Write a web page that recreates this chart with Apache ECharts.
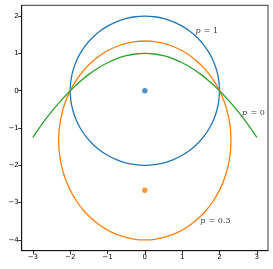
<!DOCTYPE html>
<html><head><meta charset="utf-8">
<script src="https://cdn.jsdelivr.net/npm/echarts@6/dist/echarts.min.js"></script>
<style>html,body{margin:0;padding:0;background:#fff}#c{width:273px;height:269px}</style>
</head><body><div id="c"></div>
<script>
// p = 1 : circle (points every 7.5 degrees)
var circleX = [2, 1.983, 1.932, 1.848, 1.732, 1.587, 1.414, 1.218, 1, 0.765, 0.518, 0.261, 0,
  -0.261, -0.518, -0.765, -1, -1.218, -1.414, -1.587, -1.732, -1.848, -1.932, -1.983, -2,
  -1.983, -1.932, -1.848, -1.732, -1.587, -1.414, -1.218, -1, -0.765, -0.518, -0.261, 0,
  0.261, 0.518, 0.765, 1, 1.218, 1.414, 1.587, 1.732, 1.848, 1.932, 1.983, 2];
var circleY = [0, 0.261, 0.518, 0.765, 1, 1.218, 1.414, 1.587, 1.732, 1.848, 1.932, 1.983, 2,
  1.983, 1.932, 1.848, 1.732, 1.587, 1.414, 1.218, 1, 0.765, 0.518, 0.261, 0,
  -0.261, -0.518, -0.765, -1, -1.218, -1.414, -1.587, -1.732, -1.848, -1.932, -1.983, -2,
  -1.983, -1.932, -1.848, -1.732, -1.587, -1.414, -1.218, -1, -0.765, -0.518, -0.261, 0];
// p = 0.3 : ellipse
var ellipseX = [2.309, 2.289, 2.230, 2.133, 2.000, 1.832, 1.633, 1.406, 1.155, 0.884, 0.598, 0.301, 0,
  -0.301, -0.598, -0.884, -1.155, -1.406, -1.633, -1.832, -2.000, -2.133, -2.230, -2.289, -2.309,
  -2.289, -2.230, -2.133, -2.000, -1.832, -1.633, -1.406, -1.155, -0.884, -0.598, -0.301, 0,
  0.301, 0.598, 0.884, 1.155, 1.406, 1.633, 1.832, 2.000, 2.133, 2.230, 2.289, 2.309];
var ellipseY = [-1.333, -0.985, -0.643, -0.312, 0, 0.291, 0.553, 0.783, 0.977, 1.131, 1.243, 1.311, 1.333,
  1.311, 1.243, 1.131, 0.977, 0.783, 0.553, 0.291, 0, -0.312, -0.643, -0.985, -1.333,
  -1.681, -2.023, -2.354, -2.666, -2.957, -3.219, -3.449, -3.643, -3.797, -3.909, -3.977, -4.0,
  -3.977, -3.909, -3.797, -3.643, -3.449, -3.219, -2.957, -2.666, -2.354, -2.023, -1.681, -1.333];
// p = 0 : parabola
var parabolaX = [-3, -2.75, -2.5, -2.25, -2, -1.75, -1.5, -1.25, -1, -0.75, -0.5, -0.25, 0,
  0.25, 0.5, 0.75, 1, 1.25, 1.5, 1.75, 2, 2.25, 2.5, 2.75, 3];
var parabolaY = [-1.25, -0.8906, -0.5625, -0.2656, 0, 0.2344, 0.4375, 0.6094, 0.75, 0.8594, 0.9375, 0.9844, 1,
  0.9844, 0.9375, 0.8594, 0.75, 0.6094, 0.4375, 0.2344, 0, -0.2656, -0.5625, -0.8906, -1.25];
// centre dots
var dotBlue = [0, 0];
var dotOrange = [0, -2.667];
// annotations
var labelX = [1.66, 2.91, 1.89];
var labelY = [1.61, -0.60, -3.48];
var labelVal = ['1', '0', '0.3'];
// ticks
var xTicks = [-3, -2, -1, 0, 1, 2, 3];
var yTicks = [-4, -3, -2, -1, 0, 1, 2];

function pairs(xs, ys) { return xs.map(function (x, i) { return [x, ys[i]]; }); }
function minus(v) { return String(v).replace('-', '\u2212'); }

var chart = echarts.init(document.getElementById('c'), null, {renderer: 'canvas'});
var axisCommon = {
  type: 'value',
  axisLine: {show: true, onZero: false, lineStyle: {color: '#000', width: 0.8}},
  splitLine: {show: false},
  axisLabel: {color: '#000', fontSize: 7, fontFamily: 'DejaVu Sans', margin: 3, formatter: minus},
  axisTick: {show: true, length: 3.5, lineStyle: {color: '#000', width: 0.8}}
};
var labelData = labelX.map(function (x, i) { return {value: [x, labelY[i]], name: labelVal[i]}; });
chart.setOption({
  animation: false,
  grid: {left: 21.7, right: 5, top: 5.3, bottom: 18.3, show: true, borderColor: '#000', borderWidth: 0.8, backgroundColor: 'transparent'},
  xAxis: Object.assign({}, axisCommon, {min: -3.3, max: 3.3,
    axisLabel: Object.assign({}, axisCommon.axisLabel, {customValues: xTicks}),
    axisTick: Object.assign({}, axisCommon.axisTick, {customValues: xTicks})}),
  yAxis: Object.assign({}, axisCommon, {min: -4.29, max: 2.29,
    axisLabel: Object.assign({}, axisCommon.axisLabel, {customValues: yTicks}),
    axisTick: Object.assign({}, axisCommon.axisTick, {customValues: yTicks})}),
  series: [
    {type: 'line', data: pairs(circleX, circleY), smooth: 0.3, showSymbol: false, symbol: 'none', lineStyle: {color: '#1f77b4', width: 1.3}},
    {type: 'line', data: pairs(ellipseX, ellipseY), smooth: 0.3, showSymbol: false, symbol: 'none', lineStyle: {color: '#ff7f0e', width: 1.3}},
    {type: 'line', data: pairs(parabolaX, parabolaY), smooth: 0.3, showSymbol: false, symbol: 'none', lineStyle: {color: '#2ca02c', width: 1.3}},
    {type: 'scatter', data: [dotBlue], symbolSize: 5.5, itemStyle: {color: '#1f77b4'}},
    {type: 'scatter', data: [dotOrange], symbolSize: 5.5, itemStyle: {color: '#ff7f0e'}},
    {type: 'scatter', data: labelData, symbolSize: 0,
      label: {show: true, position: 'inside', color: '#000',
        formatter: function (p) { return '{i|p} {n|= ' + p.name + '}'; },
        rich: {i: {fontFamily: 'DejaVu Serif', fontStyle: 'italic', fontSize: 8, color: '#000'},
               n: {fontFamily: 'DejaVu Serif', fontSize: 8, color: '#000'}}}}
  ]
});
</script></body></html>
